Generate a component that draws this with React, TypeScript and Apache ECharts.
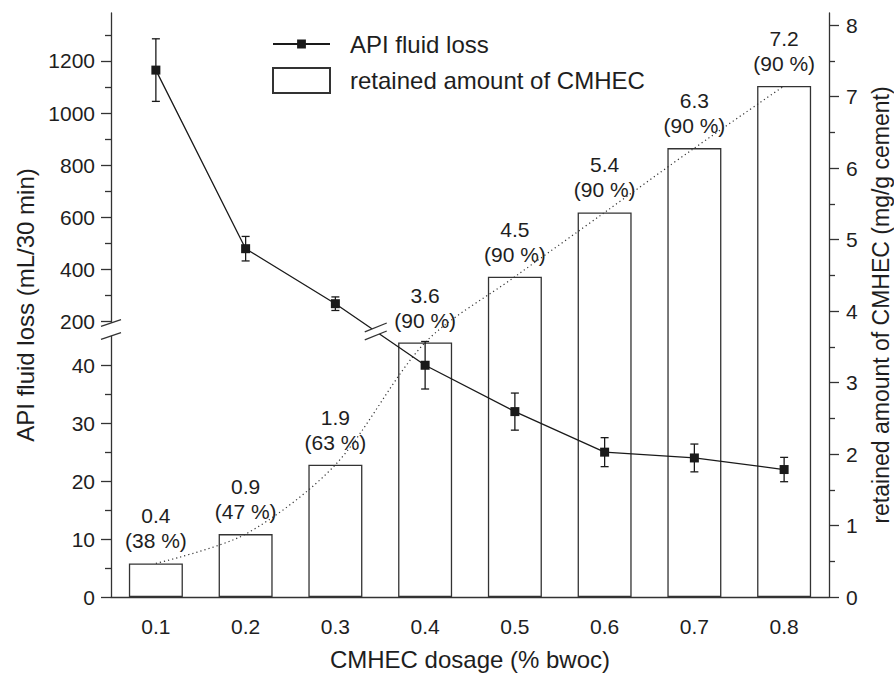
import React, { useEffect, useRef } from 'react';
import * as echarts from 'echarts';

// ---- data ----
const dosage = ['0.1', '0.2', '0.3', '0.4', '0.5', '0.6', '0.7', '0.8'];
const fluidLoss = [1165, 480, 269, 40, 32, 25, 24, 22];
const fluidLossErr = [120, 47, 26, 4.1, 3.2, 2.5, 2.4, 2.1];
const retained = [0.47, 0.88, 1.85, 3.56, 4.48, 5.38, 6.28, 7.15];
const retainedLabel = ['0.4', '0.9', '1.9', '3.6', '4.5', '5.4', '6.3', '7.2'];
const retainedPct = [38, 47, 63, 90, 90, 90, 90, 90];
const lowerTicks = [0, 10, 20, 30, 40];
const lowerMinor = [5, 15, 25, 35];
const upperTicks = [200, 400, 600, 800, 1000, 1200];
const upperMinor = [300, 500, 700, 900, 1100, 1300];
const rightTicks = [0, 1, 2, 3, 4, 5, 6, 7, 8];
const rightMinor = [0.5, 1.5, 2.5, 3.5, 4.5, 5.5, 6.5, 7.5];

// ---- broken left axis: two linear segments sharing the grid height ----
const LOWER_MIN = 0;
const LOWER_MAX = 100.8;
const UPPER_MIN = -856;
const UPPER_MAX = 1384;
const BREAK_VALUE = 100;
const BREAK_MARK_VALUE = 170;
const RIGHT_MAX = 8.17;

const toLower = (v: number) =>
  v > BREAK_VALUE
    ? ((v - UPPER_MIN) / (UPPER_MAX - UPPER_MIN)) * (LOWER_MAX - LOWER_MIN) + LOWER_MIN
    : v;

const FONT = 'Liberation Sans, Arial, Helvetica, sans-serif';
const INK = '#1e1e1e';
const AXIS = '#333';
const GRID = { left: 111, right: 65, top: 13, bottom: 83 };
const TICK_FS = 21;
const NAME_FS = 24;

export default function App() {
  const ref = useRef<HTMLDivElement>(null);

  useEffect(() => {
    if (!ref.current) return;
    const chart = echarts.init(ref.current, null, { renderer: 'svg' });

    const lineData = fluidLoss.map((v) => toLower(v));
    const errData = fluidLoss.map((v, i) => [
      i,
      toLower(v - fluidLossErr[i]),
      toLower(v + fluidLossErr[i]),
    ]);

    const tickLabel = {
      fontSize: TICK_FS,
      color: INK,
      fontFamily: FONT,
      formatter: (v: number) => String(v),
    };
    const nameStyle = { fontSize: NAME_FS, color: INK, fontFamily: FONT };
    const legendText = { fontSize: NAME_FS, color: INK, fontFamily: FONT, padding: [0, 0, 0, 15] };

    const option: any = {
      animation: false,
      textStyle: { fontFamily: FONT },
      grid: { ...GRID, containLabel: false, outerBoundsMode: 'none' },
      legend: [
        {
          orient: 'vertical',
          left: 272,
          top: 32,
          padding: 0,
          itemWidth: 57,
          itemHeight: 11,
          data: ['API fluid loss'],
          textStyle: legendText,
        },
        {
          orient: 'vertical',
          left: 272,
          top: 67,
          padding: 0,
          itemWidth: 57,
          itemHeight: 25,
          data: [{ name: 'retained amount of CMHEC', icon: 'rect' }],
          textStyle: legendText,
        },
      ],
      xAxis: {
        type: 'category',
        data: dosage,
        boundaryGap: true,
        axisLine: { lineStyle: { color: AXIS, width: 1.3 } },
        axisTick: { alignWithLabel: true, length: 10, lineStyle: { color: AXIS, width: 1.3 } },
        axisLabel: { fontSize: TICK_FS, color: INK, fontFamily: FONT, margin: 19 },
        name: 'CMHEC dosage (% bwoc)',
        nameLocation: 'middle',
        nameGap: 50,
        nameTextStyle: nameStyle,
        splitLine: { show: false },
      },
      yAxis: [
        {
          type: 'value',
          position: 'left',
          min: LOWER_MIN,
          max: LOWER_MAX,
          axisLine: { show: true, lineStyle: { color: AXIS, width: 1.3 } },
          axisTick: { show: true, length: 10, customValues: lowerTicks, lineStyle: { color: AXIS, width: 1.3 } },
          axisLabel: { ...tickLabel, margin: 16, customValues: lowerTicks },
          splitLine: { show: false },
          name: 'API fluid loss (mL/30 min)',
          nameLocation: 'middle',
          nameRotate: 90,
          nameGap: 74,
          nameTextStyle: nameStyle,
        },
        {
          type: 'value',
          position: 'left',
          min: LOWER_MIN,
          max: LOWER_MAX,
          axisLine: { show: false },
          axisTick: { show: true, length: 6, customValues: lowerMinor, lineStyle: { color: AXIS, width: 1.3 } },
          axisLabel: { show: false },
          splitLine: { show: false },
        },
        {
          type: 'value',
          position: 'left',
          min: UPPER_MIN,
          max: UPPER_MAX,
          axisLine: { show: false },
          axisTick: { show: true, length: 10, customValues: upperTicks, lineStyle: { color: AXIS, width: 1.3 } },
          axisLabel: { ...tickLabel, margin: 16, customValues: upperTicks },
          splitLine: { show: false },
        },
        {
          type: 'value',
          position: 'left',
          min: UPPER_MIN,
          max: UPPER_MAX,
          axisLine: { show: false },
          axisTick: { show: true, length: 6, customValues: upperMinor, lineStyle: { color: AXIS, width: 1.3 } },
          axisLabel: { show: false },
          splitLine: { show: false },
        },
        {
          type: 'value',
          position: 'right',
          min: 0,
          max: RIGHT_MAX,
          axisLine: { show: true, lineStyle: { color: AXIS, width: 1.3 } },
          axisTick: { show: true, length: 10, customValues: rightTicks, lineStyle: { color: AXIS, width: 1.3 } },
          axisLabel: { ...tickLabel, margin: 17, customValues: rightTicks },
          splitLine: { show: false },
          name: 'retained amount of CMHEC (mg/g cement)',
          nameLocation: 'middle',
          nameRotate: 90,
          nameGap: 40,
          nameTextStyle: { ...nameStyle, fontSize: 23 },
        },
        {
          type: 'value',
          position: 'right',
          min: 0,
          max: RIGHT_MAX,
          axisLine: { show: false },
          axisTick: { show: true, length: 6, customValues: rightMinor, lineStyle: { color: AXIS, width: 1.3 } },
          axisLabel: { show: false },
          splitLine: { show: false },
        },
      ],
      series: [
        {
          name: 'retained amount of CMHEC',
          type: 'bar',
          yAxisIndex: 4,
          data: retained,
          barWidth: 54,
          itemStyle: { color: '#fff', borderColor: AXIS, borderWidth: 1.3 },
          label: {
            show: true,
            position: 'top',
            distance: 10,
            fontSize: TICK_FS,
            lineHeight: 25,
            color: INK,
            fontFamily: FONT,
            formatter: (p: any) => `${retainedLabel[p.dataIndex]}\n(${retainedPct[p.dataIndex]} %)`,
          },
          z: 1,
        },
        {
          name: 'retained trend',
          type: 'line',
          yAxisIndex: 4,
          data: retained,
          smooth: 0.3,
          symbol: 'none',
          lineStyle: { color: '#333', width: 1.2, type: [1.2, 3] },
          z: 2,
        },
        {
          name: 'API fluid loss',
          type: 'line',
          yAxisIndex: 0,
          data: lineData,
          symbol: 'rect',
          symbolSize: 9,
          itemStyle: { color: '#1a1a1a' },
          lineStyle: { color: '#1a1a1a', width: 1.3 },
          z: 4,
        },
        {
          name: 'error',
          type: 'custom',
          yAxisIndex: 0,
          data: errData,
          encode: { x: 0, y: [1, 2] },
          renderItem: (params: any, api: any) => {
            const x = api.value(0);
            const lo = api.coord([x, api.value(1)]);
            const hi = api.coord([x, api.value(2)]);
            const w = 4;
            const style = { stroke: '#1a1a1a', lineWidth: 1.3 };
            return {
              type: 'group',
              children: [
                { type: 'line', shape: { x1: lo[0], y1: lo[1], x2: hi[0], y2: hi[1] }, style },
                { type: 'line', shape: { x1: hi[0] - w, y1: hi[1], x2: hi[0] + w, y2: hi[1] }, style },
                { type: 'line', shape: { x1: lo[0] - w, y1: lo[1], x2: lo[0] + w, y2: lo[1] }, style },
              ],
            };
          },
          z: 3,
        },
      ],
    };

    chart.setOption(option);

    // break marks (positions derived from the axes)
    const slash = (cx: number, cy: number, sep: number, half: number, slope: number) => {
      const a1 = [cx - half, cy - sep / 2 + half * slope];
      const b1 = [cx + half, cy - sep / 2 - half * slope];
      const a2 = [cx - half, cy + sep / 2 + half * slope];
      const b2 = [cx + half, cy + sep / 2 - half * slope];
      const style = { stroke: AXIS, lineWidth: 1.3 };
      return [
        { type: 'polygon', shape: { points: [a1, b1, b2, a2] }, style: { fill: '#fff' }, z: 100 },
        { type: 'line', shape: { x1: a1[0], y1: a1[1], x2: b1[0], y2: b1[1] }, style, z: 101 },
        { type: 'line', shape: { x1: a2[0], y1: a2[1], x2: b2[0], y2: b2[1] }, style, z: 101 },
      ];
    };

    const axisBreakY = chart.convertToPixel({ yAxisIndex: 2 }, BREAK_MARK_VALUE) as number;
    const p3 = chart.convertToPixel({ xAxisIndex: 0, yAxisIndex: 0 }, [2, lineData[2]]) as number[];
    const p4 = chart.convertToPixel({ xAxisIndex: 0, yAxisIndex: 0 }, [3, lineData[3]]) as number[];
    const t = 0.45;
    const mx = p3[0] + (p4[0] - p3[0]) * t;
    const my = p3[1] + (p4[1] - p3[1]) * t;

    chart.setOption({
      graphic: [
        ...slash(GRID.left, axisBreakY, 13, 10, 0.33),
        ...slash(mx, my, 8, 11, 0.4),
      ],
    });

    return () => chart.dispose();
  }, []);

  return (
    <div
      ref={ref}
      style={{ position: 'fixed', left: 0, top: 0, width: 894, height: 680, background: '#fff' }}
    />
  );
}
